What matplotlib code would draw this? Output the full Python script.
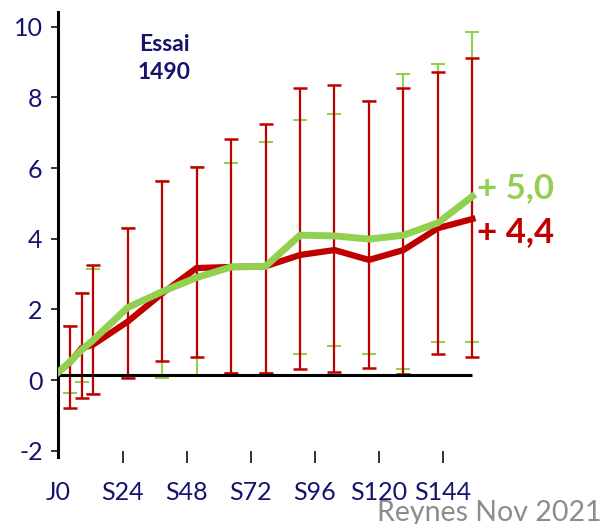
import matplotlib
matplotlib.use("Agg")
import matplotlib.pyplot as plt
import numpy as np

plt.rcParams['font.family'] = ['Lato', 'DejaVu Sans']

weeks = [0, 4, 8, 12, 24, 36, 48, 60, 72, 84, 96, 108, 120, 132, 144]
red_mean = [0.23, 0.50, 0.90, 1.00, 1.65, 2.45, 3.17, 3.20, 3.22, 3.54, 3.68, 3.40, 3.68, 4.30, 4.56]
red_low = [np.nan, -0.79, -0.51, -0.40, 0.06, 0.54, 0.65, 0.20, 0.20, 0.31, 0.23, 0.33, 0.17, 0.74, 0.65]
red_high = [np.nan, 1.53, 2.46, 3.26, 4.30, 5.63, 6.04, 6.83, 7.25, 8.27, 8.36, 7.90, 8.27, 8.72, 9.12]
green_mean = [0.23, 0.52, 0.85, 1.13, 2.05, 2.50, 2.90, 3.20, 3.22, 4.10, 4.08, 3.99, 4.10, 4.45, 5.20]
green_low = [np.nan, -0.37, -0.06, -0.40, 0.06, 0.06, 0.12, 0.20, 0.20, 0.74, 0.96, 0.74, 0.31, 1.08, 1.08]
green_high = [np.nan, 1.53, 2.46, 3.14, 4.30, 5.63, 6.04, 6.15, 6.74, 7.37, 7.53, 7.90, 8.67, 8.95, 9.86]

yticks = [-2, 0, 2, 4, 6, 8, 10]
xtick_weeks = [0, 24, 48, 72, 96, 120, 144]
xtick_labels = ["J0", "S24", "S48", "S72", "S96", "S120", "S144"]
baseline_level = 0.15
label_green = "+ 5,0"
label_red = "+ 4,4"

RED = "#C00000"
GREEN = "#92D050"
NAVY = "#14146E"

fig = plt.figure(figsize=(6.03, 5.24), dpi=100)
ax = fig.add_axes([58/603, (524-457)/524, 482/603, 445/524])
ax.set_xlim(-0.2, 167.5)
ax.set_ylim(-2.18, 10.42)

w = np.array(weeks, dtype=float)
rm = np.array(red_mean); gm = np.array(green_mean)
r_err = np.vstack([rm - np.array(red_low), np.array(red_high) - rm])
g_err = np.vstack([gm - np.array(green_low), np.array(green_high) - gm])

ax.errorbar(w, gm, yerr=g_err, fmt='none', ecolor=GREEN, elinewidth=1.5,
            capsize=5, capthick=1.5, zorder=2)
ax.errorbar(w, rm, yerr=r_err, fmt='none', ecolor=RED, elinewidth=1.6,
            capsize=5, capthick=1.8, zorder=3)
ax.plot([weeks[0], weeks[-1]], [baseline_level, baseline_level], color='black', lw=2.2, zorder=4,
        solid_capstyle='butt')
ax.plot(w, rm, color=RED, lw=4.5, zorder=5, solid_joinstyle='miter')
ax.plot(w, gm, color=GREEN, lw=5, zorder=6, solid_joinstyle='miter')

for s in ['top', 'right', 'bottom']:
    ax.spines[s].set_visible(False)
ax.spines['left'].set_linewidth(2.2)
ax.set_yticks(yticks)
ax.set_yticklabels([str(v) for v in yticks])
ax.tick_params(axis='y', direction='out', length=5, width=1.3, color='#222222',
               labelsize=18, labelcolor=NAVY, pad=6)
ax.set_xticks([])

ax.text(145.5, 5.44, label_green, color=GREEN, fontsize=25, fontweight='bold',
        ha='left', va='center')
ax.text(145.5, 4.19, label_red, color=RED, fontsize=25, fontweight='bold',
        ha='left', va='center')
ax.text(36.7, 9.49, "Essai", color=NAVY, fontsize=16.5, fontweight='bold', ha='center', va='center')
ax.text(36.7, 8.70, "1490", color=NAVY, fontsize=16.5, fontweight='bold', ha='center', va='center')

# secondary x axis (labels placed on their own scale, as in the original)
ax2 = fig.add_axes(ax.get_position(), frameon=False)
ax2.set_xlim(-0.26, 180.5)
ax2.set_ylim(0, 1)
ax2.set_yticks([])
ax2.set_xticks(xtick_weeks)
ax2.set_xticklabels(xtick_labels)
ax2.tick_params(axis='x', direction='inout', length=9, width=1.3, color='#222222',
                labelsize=18, labelcolor=NAVY, pad=13)
ax2.xaxis.get_major_ticks()[0].tick1line.set_visible(False)
ax2.patch.set_visible(False)

fig.text(0.997, 0.006, "Reynes Nov 2021", color='#8C8C8C', fontsize=20.5, ha='right', va='baseline')

fig.savefig("out.png", dpi=100)
